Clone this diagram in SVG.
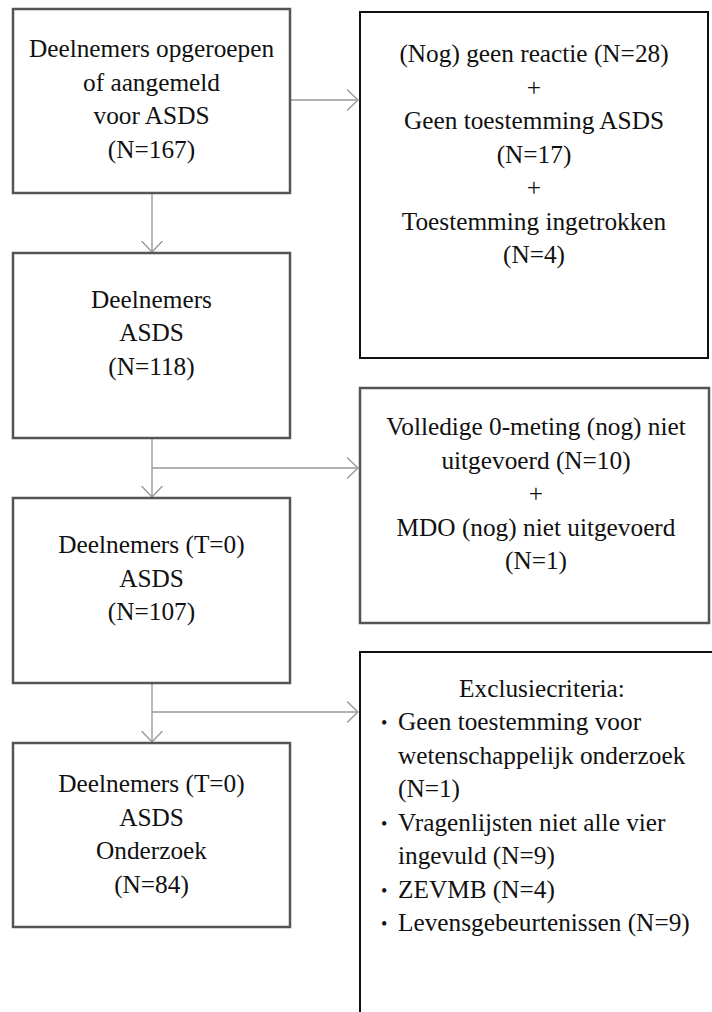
<svg xmlns="http://www.w3.org/2000/svg" width="712" height="1012" viewBox="0 0 712 1012">
<defs>
<style>
.box{fill:#fff;stroke:#555;stroke-width:2.5}
.boxk{fill:#fff;stroke:#111;stroke-width:2}
.t{font-family:"Liberation Serif","Times New Roman",serif;font-size:25.3px;fill:#111;text-anchor:middle}
.l{font-family:"Liberation Serif","Times New Roman",serif;font-size:25.3px;fill:#111;text-anchor:start}
.b{font-size:18px}
.c{fill:none;stroke:#999;stroke-width:1.4}
</style>
<marker id="arr" viewBox="0 0 12 22" refX="11.5" refY="11" markerWidth="12" markerHeight="22" markerUnits="userSpaceOnUse" orient="auto">
<path d="M0.5,0.5 L11.5,11 L0.5,21.5" fill="none" stroke="#999" stroke-width="1.4"/>
</marker>
</defs>
<rect width="712" height="1012" fill="#fff"/>
<g id="connectors">
<path class="c" d="M291,100 H358" marker-end="url(#arr)"/>
<path class="c" d="M152,194 V252" marker-end="url(#arr)"/>
<path class="c" d="M152,439 V497" marker-end="url(#arr)"/>
<path class="c" d="M152,468 H358" marker-end="url(#arr)"/>
<path class="c" d="M152,684 V742" marker-end="url(#arr)"/>
<path class="c" d="M152,712 H358" marker-end="url(#arr)"/>
</g>
<g id="n1">
<rect class="box" x="13" y="9" width="277" height="184"/>
<text class="t" x="151.5" y="57">Deelnemers opgeroepen</text>
<text class="t" x="151.5" y="90.5">of aangemeld</text>
<text class="t" x="151.5" y="124">voor ASDS</text>
<text class="t" x="151.5" y="157.5">(N=167)</text>
</g>
<g id="n2">
<rect class="box" x="13" y="253" width="277" height="185"/>
<text class="t" x="151.5" y="307.5">Deelnemers</text>
<text class="t" x="151.5" y="341">ASDS</text>
<text class="t" x="151.5" y="374.5">(N=118)</text>
</g>
<g id="n3">
<rect class="box" x="13" y="498" width="277" height="185"/>
<text class="t" x="151.5" y="553">Deelnemers (T=0)</text>
<text class="t" x="151.5" y="586.5">ASDS</text>
<text class="t" x="151.5" y="620">(N=107)</text>
</g>
<g id="n4">
<rect class="box" x="13" y="743" width="277" height="184"/>
<text class="t" x="151.5" y="792">Deelnemers (T=0)</text>
<text class="t" x="151.5" y="825.5">ASDS</text>
<text class="t" x="151.5" y="859">Onderzoek</text>
<text class="t" x="151.5" y="892.5">(N=84)</text>
</g>
<g id="r1">
<rect class="boxk" x="360" y="12" width="348" height="346"/>
<text class="t" x="534" y="62">(Nog) geen reactie (N=28)</text>
<text class="t" x="534" y="95.5">+</text>
<text class="t" x="534" y="129">Geen toestemming ASDS</text>
<text class="t" x="534" y="162.5">(N=17)</text>
<text class="t" x="534" y="196">+</text>
<text class="t" x="534" y="229.5">Toestemming ingetrokken</text>
<text class="t" x="534" y="263">(N=4)</text>
</g>
<g id="r2">
<rect class="box" x="360" y="388" width="349" height="235"/>
<text class="t" x="536" y="435">Volledige 0-meting (nog) niet</text>
<text class="t" x="536" y="468.5">uitgevoerd (N=10)</text>
<text class="t" x="536" y="502">+</text>
<text class="t" x="536" y="535.5">MDO (nog) niet uitgevoerd</text>
<text class="t" x="536" y="569">(N=1)</text>
</g>
<g id="r3">
<rect class="boxk" x="360" y="652" width="400" height="400"/>
<text class="t" x="542" y="697">Exclusiecriteria:</text>
<text class="l" x="381" y="729"><tspan class="b">•</tspan></text>
<text class="l" x="398" y="730">Geen toestemming voor</text>
<text class="l" x="398" y="763.5">wetenschappelijk onderzoek</text>
<text class="l" x="398" y="797">(N=1)</text>
<text class="l" x="381" y="829.5"><tspan class="b">•</tspan></text>
<text class="l" x="398" y="830.5">Vragenlijsten niet alle vier</text>
<text class="l" x="398" y="864">ingevuld (N=9)</text>
<text class="l" x="381" y="896.5"><tspan class="b">•</tspan></text>
<text class="l" x="398" y="897.5">ZEVMB (N=4)</text>
<text class="l" x="381" y="930"><tspan class="b">•</tspan></text>
<text class="l" x="398" y="931">Levensgebeurtenissen (N=9)</text>
</g>
</svg>
